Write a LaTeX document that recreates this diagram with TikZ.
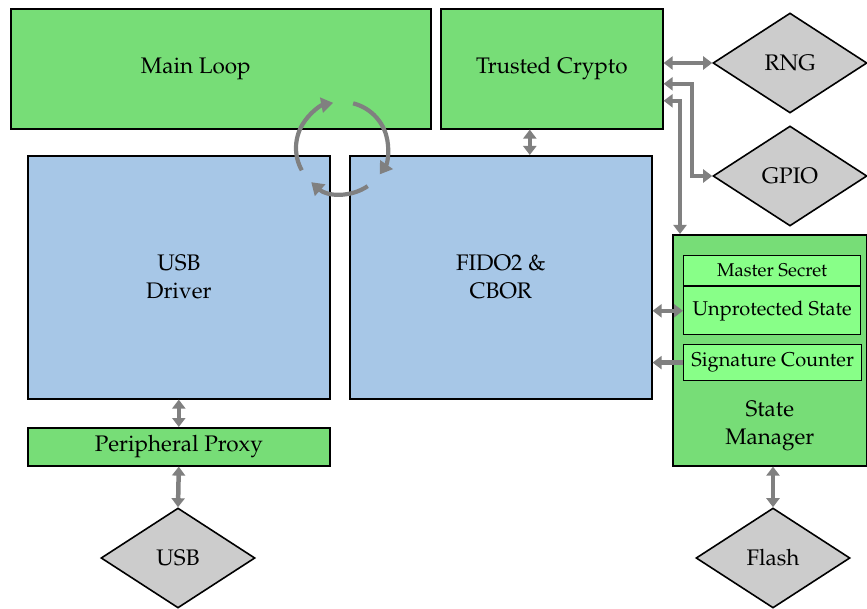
\documentclass[tikz,border=0pt]{standalone}
\usepackage[T1]{fontenc}
\usepackage{mathpazo}
\usepackage{tikz}
\definecolor{block_green}{HTML}{77DD77}
\definecolor{light_green}{HTML}{88FF88}
\definecolor{block_blue}{HTML}{A7C7E7}
\definecolor{io_grey}{HTML}{CCCCCC}
\definecolor{conn_grey}{HTML}{808080}
\tikzset{
  block_font/.style = {font=\fontsize{22.5}{28}\selectfont},
  small_font/.style = {font=\fontsize{20}{24}\selectfont},
  tiny_font/.style = {font=\fontsize{18.5}{22}\selectfont}
}
\tikzset{
  block/.style = {block_font, align=center, draw, line width=1.6pt, inner sep=0, anchor=north west},
  green_block/.style = {block, fill=block_green},
  blue_block/.style = {block, fill=block_blue},
  sub_block/.style = {small_font, align=center, draw, line width=1.2pt, fill=light_green, inner sep=0, anchor=north west},
  io/.style = {block_font, diamond, draw, line width=1.6pt, fill=io_grey, inner sep=0, minimum width=154, minimum height=100},
  conn/.style = {draw=conn_grey, line width=4.5pt, {Triangle[length=9pt,width=13pt]}-{Triangle[length=9pt,width=13pt]}},
  conn_one/.style = {conn, -{Triangle[length=9pt,width=13pt]}},
  loop_arrow/.style = {draw=conn_grey, line width=4.2pt, -{Triangle[length=12pt,width=15pt]}}
}
\usetikzlibrary{shapes.geometric, arrows.meta, positioning, calc}

\begin{document}
\begin{tikzpicture}[x=1pt, y=-1pt]
    \useasboundingbox (0,0) rectangle (867,609);

    % Blocks
    \node[green_block, minimum width=420, minimum height=120] at (10,8) (main) {};
    \node[block_font, inner sep=0] at ([xshift=-25pt]main.center) (main_text) {Main Loop};
    \node[green_block, minimum width=222, minimum height=120] at (440,8) (crypto) {Trusted Crypto};
    \node[blue_block, minimum width=302, minimum height=243] at (27,155) (driver) {USB\\Driver};
    \node[blue_block, minimum width=302, minimum height=243] at (349,155) (fido) {FIDO2 \&\\CBOR};
    \node[green_block, minimum width=302, minimum height=38] at (27,427) (proxy) {Peripheral Proxy};
    \node[green_block, minimum width=194, minimum height=231] at (672,234) (state) {};
    \node[block_font, align=center, anchor=south, inner sep=0] at ([yshift=16pt]state.south) (state_text) {State\\Manager};

    % State contents
    \node[sub_block, tiny_font, minimum width=177, minimum height=30] at (683,255) (secret) {Master Secret};
    \node[sub_block, minimum width=177, minimum height=48] at (secret.south west) (unprot) {Unprotected State};
    \node[sub_block, minimum width=178, minimum height=36] at (683,344) (counter) {Signature Counter};

    % Peripherals
    \node[io] at (790,63) (rng) {RNG};
    \node[io] at (790,176) (gpio) {GPIO};
    \node[io] at (178,558) (usb) {USB};
    \node[io] at (773,558) (flash) {Flash};

    % Arrows
    \draw[conn] ([xshift=29pt]fido.north) -- ([xshift=29pt]fido.north |- crypto.south);
    \draw[conn] (rng.west) -- (rng.west -| crypto.east);
    \draw[conn] ([yshift=-15pt]crypto.east) -| ([xshift=-20pt]gpio.west) -- (gpio.west);
    \draw[conn] ([yshift=-32pt]crypto.east) -| ([xshift=8pt]state.north west);
    \draw[conn] (unprot.west) -- (unprot.west -| fido.east);
    \draw[conn_one] (counter.west) -- (counter.west -| fido.east);
    \draw[conn] (driver.south) -- (proxy.north);
    \draw[conn] (proxy.south) -- (usb.north);
    \draw[conn] (flash.north) -- (flash.north |- state.south);

    % Main loop cycle
    \coordinate (cycle) at (342,148);
    \draw[loop_arrow] (cycle) ++(209:46pt) arc[start angle=209, end angle=101, radius=46pt];
    \draw[loop_arrow] (cycle) ++(76:46pt) arc[start angle=76, end angle=-35, radius=46pt];
    \draw[loop_arrow] (cycle) ++(-56:46pt) arc[start angle=-56, end angle=-132, radius=46pt];
\end{tikzpicture}
\end{document}
